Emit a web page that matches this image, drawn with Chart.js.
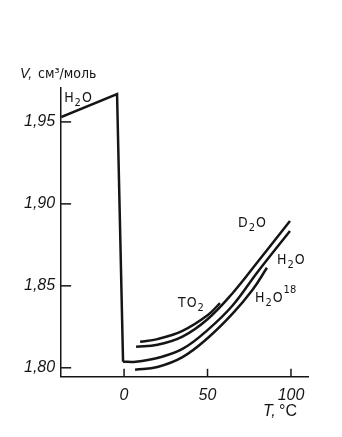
<!DOCTYPE html>
<html>
<head>
<meta charset="utf-8">
<script src="https://cdn.jsdelivr.net/npm/chart.js@4.4.1/dist/chart.umd.min.js"></script>
<style>
  html, body { margin: 0; padding: 0; background: #fff; }
  #box { width: 342px; height: 437px; }
</style>
</head>
<body>
<div id="box"><canvas id="VolumeGraph"></canvas></div>
<script>
// values (T in °C, V in cm3/mol)
var iceT = [-37.7, -4.2, -0.6];
var iceV = [1.953, 1.967, 1.8037];
var h2oT = [-0.6, 7, 20, 35, 50, 65, 80, 99.4];
var h2oV = [1.8037, 1.8037, 1.806, 1.8115, 1.823, 1.838, 1.8585, 1.8835];
var d2oT = [7.2, 20, 35, 50, 65, 80, 99.4];
var d2oV = [1.8128, 1.814, 1.819, 1.8296, 1.8455, 1.8645, 1.8896];
var t2oT = [9.6, 20, 35, 50, 57.5];
var t2oV = [1.8159, 1.8175, 1.8225, 1.832, 1.8395];
var h2o18T = [6.6, 20, 35, 50, 65, 77, 85.6];
var h2o18V = [1.7988, 1.8005, 1.8065, 1.818, 1.833, 1.8476, 1.861];
var xTicks = [0, 50, 100];
var yTicks = [1.80, 1.85, 1.90, 1.95];

function pts(xs, ys) {
  return xs.map(function (x, i) { return { x: x, y: ys[i] }; });
}

var ink = '#151515';

// inward tick marks + text on the plot
var marks = {
  id: 'marks',
  afterDraw: function (chart) {
    var c = chart.ctx, xs = chart.scales.x, ys = chart.scales.y;
    var a = chart.chartArea;
    c.save();
    c.strokeStyle = ink;
    c.lineWidth = 1.5;
    xTicks.forEach(function (t) {
      var px = xs.getPixelForValue(t);
      c.beginPath(); c.moveTo(px, a.bottom); c.lineTo(px, a.bottom - 8); c.stroke();
    });
    yTicks.forEach(function (v) {
      var py = ys.getPixelForValue(v);
      c.beginPath(); c.moveTo(a.left, py); c.lineTo(a.left + 10, py); c.stroke();
    });

    c.fillStyle = ink;
    c.textBaseline = 'alphabetic';
    // draws a row of [text, shift] pieces; shift 1 = subscript, -1 = superscript
    function write(t, v, parts, size) {
      var x = xs.getPixelForValue(t), y = ys.getPixelForValue(v);
      parts.forEach(function (p) {
        var small = p[1] !== 0;
        c.font = (small ? size - 3 : size) + 'px "DejaVu Sans Condensed", "Liberation Sans", sans-serif';
        var dy = p[1] === 1 ? 4 : (p[1] === -1 ? -9 : 0);
        c.fillText(p[0], x, y + dy);
        x += c.measureText(p[0]).width + 1;
      });
    }
    write(-35.9, 1.9622, [['H', 0], ['2', 1], ['O', 0]], 14);
    write(68.3, 1.886, [['D', 0], ['2', 1], ['O', 0]], 14);
    write(91.6, 1.8634, [['H', 0], ['2', 1], ['O', 0]], 14);
    write(78.4, 1.8402, [['H', 0], ['2', 1], ['O', 0], ['18', -1]], 14);
    write(32.3, 1.8372, [['T', 0], ['O', 0], ['2', 1]], 14);

    // axis titles
    c.font = 'italic 14px "Liberation Sans", sans-serif';
    c.fillText('V,', 20, 78);
    c.font = '14px "DejaVu Sans Condensed", "DejaVu Sans", sans-serif';
    c.fillText('см³/моль', 38, 78);
    c.font = 'italic 16px "Liberation Sans", sans-serif';
    c.fillText('T,', 263, 416);
    c.font = '16px "Liberation Sans", sans-serif';
    c.fillText('°C', 279, 416);
    c.restore();
  }
};

var cvg = document.getElementById('VolumeGraph');
var myVolumeGraph = new Chart(cvg, {
  type: 'line',
  data: {
    datasets: [
      { label: 'H2O лед', data: pts(iceT, iceV), tension: 0 },
      { label: 'H2O', data: pts(h2oT, h2oV) },
      { label: 'D2O', data: pts(d2oT, d2oV) },
      { label: 'T2O', data: pts(t2oT, t2oV) },
      { label: 'H2O18', data: pts(h2o18T, h2o18V) }
    ]
  },
  options: {
    responsive: true,
    maintainAspectRatio: false,
    animation: false,
    devicePixelRatio: 1,
    layout: { padding: { left: 18, top: 88, right: 34, bottom: 23 } },
    elements: {
      line: { borderColor: ink, borderWidth: 2.5, fill: false, tension: 0.4 },
      point: { radius: 0 }
    },
    plugins: {
      legend: { display: false },
      tooltip: { enabled: false }
    },
    scales: {
      x: {
        type: 'linear',
        min: -37.7,
        max: 110.2,
        afterBuildTicks: function (s) { s.ticks = xTicks.map(function (v) { return { value: v }; }); },
        grid: { display: false, drawTicks: false },
        border: { display: true, color: ink, width: 1.5 },
        ticks: {
          color: ink,
          padding: 9,
          maxRotation: 0,
          font: { family: 'Liberation Sans', size: 16, style: 'italic' }
        }
      },
      y: {
        min: 1.7945,
        max: 1.9707,
        afterBuildTicks: function (s) { s.ticks = yTicks.map(function (v) { return { value: v }; }); },
        grid: { display: false, drawTicks: false },
        border: { display: true, color: ink, width: 1.5 },
        ticks: {
          color: ink,
          padding: 6,
          font: { family: 'Liberation Sans', size: 16, style: 'italic' },
          callback: function (v) { return v.toFixed(2).replace('.', ','); }
        }
      }
    }
  },
  plugins: [marks]
});
</script>
</body>
</html>
